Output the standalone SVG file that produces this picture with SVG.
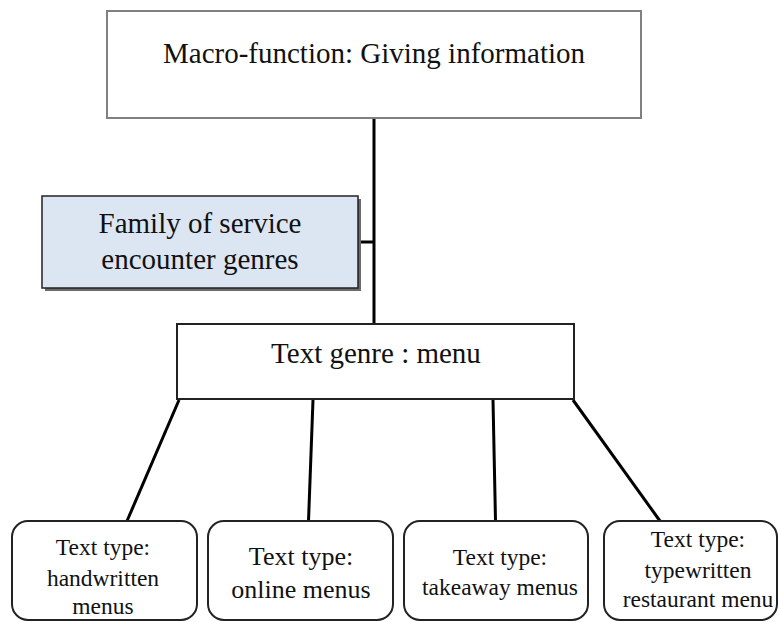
<svg xmlns="http://www.w3.org/2000/svg" width="779" height="622" viewBox="0 0 779 622">
<style>
  text { font-family: "Liberation Serif", "Times New Roman", serif; fill: #111; text-anchor: middle; }
  .big { font-size: 29px; }
  .small { font-size: 23.5px; }
  .mid { font-size: 26px; }
  .conn { stroke: #000; stroke-width: 3; fill: none; }
  .tbox { fill: #fff; stroke: #222; stroke-width: 2; }
</style>
<rect width="779" height="622" fill="#fff"/>
<g id="connectors">
  <line class="conn" x1="374" y1="118" x2="374" y2="324"/>
  <line class="conn" x1="361" y1="242" x2="374" y2="242" stroke-width="2.5"/>
  <line class="conn" x1="179" y1="400" x2="127" y2="521"/>
  <line class="conn" x1="313" y1="400" x2="308.5" y2="521"/>
  <line class="conn" x1="493" y1="400" x2="495.5" y2="521"/>
  <line class="conn" x1="573" y1="400" x2="660" y2="521"/>
</g>
<g id="macro">
  <rect x="107" y="11" width="534" height="107" fill="#fff" stroke="#808080" stroke-width="2"/>
  <text class="big" x="374" y="63">Macro-function: Giving information</text>
</g>
<g id="family">
  <rect x="45" y="199" width="316" height="92" fill="#6b6b6b"/>
  <rect x="42" y="196" width="316" height="92" fill="#dce6f2" stroke="#222" stroke-width="1.5"/>
  <text class="big" x="200" y="233">Family of service</text>
  <text class="big" x="200" y="269">encounter genres</text>
</g>
<g id="genre">
  <rect x="177" y="324" width="397" height="75" fill="#fff" stroke="#222" stroke-width="2"/>
  <text class="big" x="376" y="363">Text genre : menu</text>
</g>
<g id="handwritten">
  <rect class="tbox" x="12" y="521" width="185" height="99" rx="16"/>
  <text class="small" x="103" y="555">Text type:</text>
  <text class="small" x="103" y="586">handwritten</text>
  <text class="small" x="103" y="614">menus</text>
</g>
<g id="online">
  <rect class="tbox" x="208" y="521" width="185" height="99" rx="16"/>
  <text class="mid" x="301" y="565">Text type:</text>
  <text class="mid" x="301" y="598">online menus</text>
</g>
<g id="takeaway">
  <rect class="tbox" x="404" y="521" width="184" height="99" rx="16"/>
  <text class="small" x="500" y="565">Text type:</text>
  <text class="small" x="500" y="595">takeaway menus</text>
</g>
<g id="typewritten">
  <rect class="tbox" x="604" y="521" width="173" height="99" rx="16"/>
  <text class="small" x="698" y="547">Text type:</text>
  <text class="small" x="698" y="578">typewritten</text>
  <text class="small" x="698" y="607">restaurant menu</text>
</g>
</svg>
